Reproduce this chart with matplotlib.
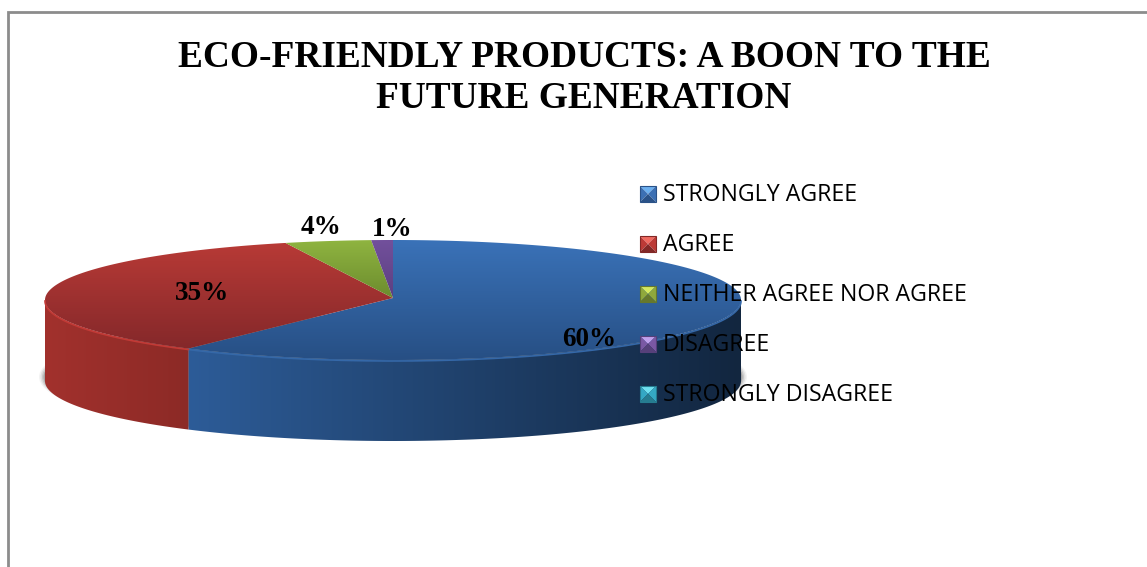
import numpy as np
import matplotlib
matplotlib.use("Agg")
import matplotlib.pyplot as plt
from matplotlib.colors import LinearSegmentedColormap
from matplotlib.patches import Polygon, Ellipse, Rectangle

title = "ECO-FRIENDLY PRODUCTS: A BOON TO THE\nFUTURE GENERATION"
categories = ["STRONGLY AGREE", "AGREE", "NEITHER AGREE NOR AGREE", "DISAGREE", "STRONGLY DISAGREE"]
shares = [60, 35, 4, 1, 0]
share_labels = ["60%", "35%", "4%", "1%"]
label_pos = [(589, 339), (202, 293), (321, 228), (392, 229)]

# top gradient (upper, lower) and side gradient (left, right) per slice
top_colors = [("#3a72b8", "#274f84"), ("#b83a36", "#84282a"), ("#8fb440", "#6c8c2e"), ("#72509c", "#5c3f80"), ("#35a8c4", "#2a8aa0")]
side_colors = [("#2d5c98", "#12263f"), ("#a2312d", "#8c2a26"), ("#7a9a34", "#6c8c2e"), ("#5c3f80", "#4c3468"), ("#2a8aa0", "#1f6f80")]
rim_colors = ["#3568a8", "#c23a36", "#9cc048", "#8060a8", "#40b0c8"]
# legend icon faces: top, sides, bottom
icon_colors = [("#6cb0f0", "#3c70b4", "#2a5288"), ("#f06a60", "#bc3a36", "#822826"),
               ("#d4e860", "#8fa83c", "#66782c"), ("#c0a0ec", "#7a58a4", "#56407a"),
               ("#70e0f0", "#34a8c4", "#267c90")]

cx, cy = 393, 300
rx, ry = 348, 60
depth = 81


def top_path(a0, a1):
    # angles are clockwise from 12 o'clock
    t = np.radians(np.linspace(a0, a1, 200))
    x = cx + rx * np.sin(t)
    y = cy - ry * np.cos(t)
    return np.column_stack([np.r_[cx, x], np.r_[cy - 2, y]])


def side_path(a0, a1):
    t = np.radians(np.linspace(a0, a1, 200))
    x = cx + rx * np.sin(t)
    y = cy - ry * np.cos(t)
    return np.column_stack([np.r_[x, x[::-1]], np.r_[y, y[::-1] + depth]])


def fill_gradient(ax, path, c0, c1, vertical):
    cmap = LinearSegmentedColormap.from_list("g", [c0, c1])
    x0, x1 = path[:, 0].min(), path[:, 0].max()
    y0, y1 = path[:, 1].min(), path[:, 1].max()
    if vertical:
        grad = np.linspace(0, 1, 256).reshape(-1, 1)
    else:
        grad = np.linspace(0, 1, 256).reshape(1, -1)
    im = ax.imshow(grad, cmap=cmap, extent=(x0, x1, y1, y0), aspect="auto", zorder=3, interpolation="bilinear")
    poly = Polygon(path, closed=True, transform=ax.transData, facecolor="none", edgecolor="none")
    ax.add_patch(poly)
    im.set_clip_path(poly)


fig = plt.figure(figsize=(11.47, 5.67), dpi=100)
ax = fig.add_axes([0, 0, 1, 1])

# chart border runs off the right and bottom of the crop
ax.plot([8, 8, 1147], [567, 12, 12], color="#8c8c8c", lw=2, solid_joinstyle="miter", zorder=1)

# soft shadow under the pie
for grow, alpha in zip([12, 9, 6, 3], [0.06, 0.1, 0.15, 0.25]):
    ax.add_patch(Ellipse((cx, cy + depth - 4), 2 * rx + grow, 2 * ry + grow / 2, facecolor="#404040",
                         edgecolor="none", alpha=alpha, zorder=2))

ends = np.cumsum(shares) * 3.6
starts = np.r_[0, ends[:-1]]
for i in range(len(shares)):
    if shares[i] == 0:
        continue
    a0, a1 = starts[i], ends[i]
    # only the part facing the viewer has a visible side
    s0, s1 = max(a0, 90), min(a1, 270)
    if s1 > s0:
        side = side_path(s0, s1)
        fill_gradient(ax, side, side_colors[i][0], side_colors[i][1], False)
        t = np.radians(np.linspace(s0, s1, 200))
        ax.plot(cx + rx * np.sin(t), cy - ry * np.cos(t) + 1, color=rim_colors[i], lw=1.2, zorder=4)
    fill_gradient(ax, top_path(a0, a1), top_colors[i][0], top_colors[i][1], True)

for text, pos in zip(share_labels, label_pos):
    ax.text(pos[0], pos[1], text, family="Liberation Serif", fontweight="bold", fontsize=19.5,
            ha="center", va="center", color="black", zorder=6)

ax.text(584, 78, title, family="Liberation Serif", fontweight="bold", fontsize=26.9, ha="center", va="center",
        linespacing=1.24, color="black", zorder=6)

# legend with bevelled icons
for i, name in enumerate(categories):
    y = 194 + 50 * i
    x0, x1 = 640, 656
    y0, y1 = y - 8, y + 8
    mx, my = (x0 + x1) / 2, y
    top, mid, bottom = icon_colors[i]
    ax.add_patch(Polygon([(x0, y0), (x1, y0), (mx, my)], facecolor=top, edgecolor="none", zorder=5))
    ax.add_patch(Polygon([(x0, y0), (x0, y1), (mx, my)], facecolor=mid, edgecolor="none", zorder=5))
    ax.add_patch(Polygon([(x1, y0), (x1, y1), (mx, my)], facecolor=mid, edgecolor="none", zorder=5))
    ax.add_patch(Polygon([(x0, y1), (x1, y1), (mx, my)], facecolor=bottom, edgecolor="none", zorder=5))
    ax.add_patch(Rectangle((x0, y0), x1 - x0, y1 - y0, facecolor="none", edgecolor=bottom, lw=0.8, zorder=5))
    ax.text(663, y + 1, name, family="Open Sans", fontsize=16.7, ha="left", va="center", color="black", zorder=6)

ax.set_xlim(0, 1147)
ax.set_ylim(567, 0)
ax.axis("off")
fig.savefig("out.png", dpi=100)
